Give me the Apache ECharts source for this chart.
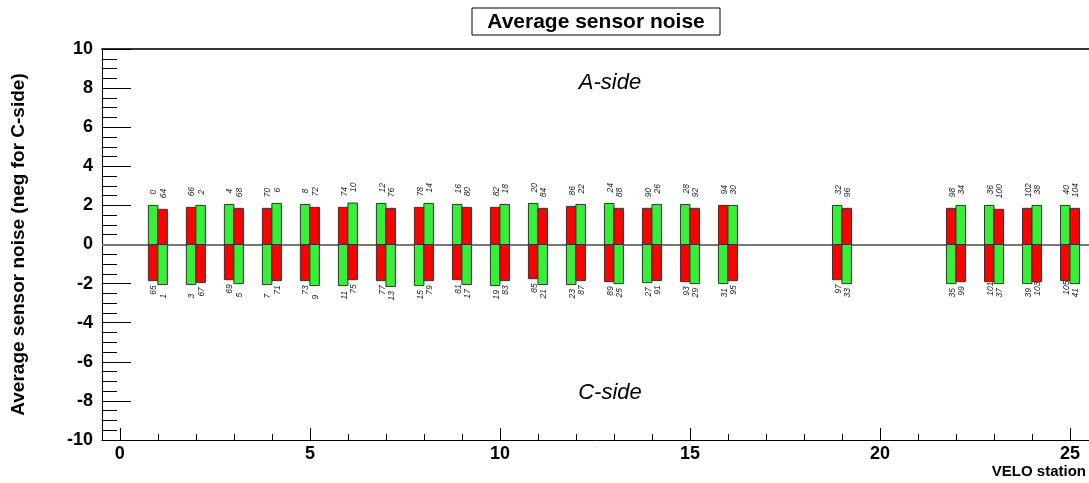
<!DOCTYPE html>
<html>
<head>
<meta charset="utf-8">
<script src="https://cdn.jsdelivr.net/npm/echarts@6/dist/echarts.min.js"></script>
<style>html,body{margin:0;padding:0;background:#fff}#c{width:1089px;height:483px}</style>
</head>
<body>
<div id="c"></div>
<script>
// ---- data ----
var stations = [1,2,3,4,5,6,7,8,9,10,11,12,13,14,15,16,19,22,23,24,25];
// A-side (positive)
var aLeftIds  = [0,66,4,70,8,74,12,78,16,82,20,86,24,90,28,94,32,98,36,102,40];
var aLeftVals = [2.00,1.90,2.05,1.85,2.05,1.90,2.10,1.90,2.05,1.90,2.10,1.95,2.10,1.85,2.05,2.00,2.00,1.85,2.00,1.85,2.00];
var aRightIds  = [64,2,68,6,72,10,76,14,80,18,84,22,88,26,92,30,96,34,100,38,104];
var aRightVals = [1.80,2.00,1.85,2.10,1.90,2.12,1.85,2.10,1.90,2.05,1.85,2.05,1.85,2.05,1.85,2.00,1.85,2.00,1.80,2.00,1.85];
// C-side (negative)
var cLeftIds  = [65,3,69,7,73,11,77,15,81,19,85,23,89,27,93,31,97,35,101,39,105];
var cLeftVals = [-1.85,-2.05,-1.80,-2.05,-1.85,-2.10,-1.85,-2.10,-1.80,-2.10,-1.75,-2.05,-1.90,-1.95,-1.90,-2.00,-1.80,-2.00,-1.90,-2.00,-1.85];
var cRightIds  = [1,67,5,71,9,75,13,79,17,83,21,87,25,91,29,95,33,99,37,103,41];
var cRightVals = [-2.05,-1.95,-2.00,-1.85,-2.10,-1.80,-2.15,-1.85,-2.05,-1.85,-2.05,-1.85,-2.00,-1.85,-2.00,-1.85,-2.00,-1.90,-2.00,-1.90,-2.00];
var xMajorTicks = [0,5,10,15,20,25];
var xMinorTicks = [0,1,2,3,4,5,6,7,8,9,10,11,12,13,14,15,16,17,18,19,20,21,22,23,24,25];

// ---- build ----
var data = [];
for (var i = 0; i < stations.length; i++) {
  data.push([stations[i], aLeftVals[i], -1, aLeftIds[i]]);
  data.push([stations[i], aRightVals[i], 1, aRightIds[i]]);
  data.push([stations[i], cLeftVals[i], -1, cLeftIds[i]]);
  data.push([stations[i], cRightVals[i], 1, cRightIds[i]]);
}
var BAR_W = 0.25;
var RED = '#ff0000', GREEN = '#35f035';
var FONT = '"Liberation Sans", Arial, Helvetica, sans-serif';

function renderItem(params, api) {
  var x = api.value(0), v = api.value(1), side = api.value(2), id = api.value(3);
  var x0 = side < 0 ? x - BAR_W : x;
  var x1 = side < 0 ? x : x + BAR_W;
  var pA = api.coord([x0, v]);
  var pB = api.coord([x1, 0]);
  var rx = Math.min(pA[0], pB[0]), ry = Math.min(pA[1], pB[1]);
  var rw = Math.abs(pB[0] - pA[0]), rh = Math.abs(pB[1] - pA[1]);
  var cx = rx + rw / 2 + 1;
  var ty = v >= 0 ? pA[1] - 11 : pA[1] + 14;
  return {
    type: 'group',
    children: [
      { type: 'rect', shape: { x: rx, y: ry, width: rw, height: rh },
        style: { fill: id >= 64 ? RED : GREEN, stroke: '#333', lineWidth: 1 } },
      { type: 'text', x: cx, y: ty, rotation: Math.PI / 2,
        style: { text: String(id), align: 'left', verticalAlign: 'middle',
                 font: 'italic 8.5px ' + FONT, fill: '#222' } }
    ]
  };
}

var chart = echarts.init(document.getElementById('c'), null, { renderer: 'canvas' });
var axisLbl = { fontFamily: FONT, fontWeight: 'bold', fontSize: 18, color: '#000' };
chart.setOption({
  animation: false,
  backgroundColor: '#fff',
  grid: { left: 102, right: 0, top: 49, bottom: 43, containLabel: false, outerBoundsMode: 'none' },
  xAxis: [
    { type: 'value', min: -0.47, max: 25.5, position: 'bottom',
      axisLine: { show: true, onZero: false, lineStyle: { color: '#000', width: 1 } },
      axisTick: { show: true, inside: true, length: 12, customValues: xMajorTicks, lineStyle: { color: '#000' } },
      axisLabel: Object.assign({ show: true, margin: 5, customValues: xMajorTicks }, axisLbl),
      splitLine: { show: false } },
    { type: 'value', min: -0.47, max: 25.5, position: 'bottom',
      axisLine: { show: false, onZero: false },
      axisTick: { show: true, inside: true, length: 6, customValues: xMinorTicks, lineStyle: { color: '#000' } },
      axisLabel: { show: false },
      splitLine: { show: false } },
    { type: 'value', min: -0.47, max: 25.5, position: 'top',
      axisLine: { show: true, onZero: false, lineStyle: { color: '#333', width: 2 } },
      axisTick: { show: false }, axisLabel: { show: false }, splitLine: { show: false } }
  ],
  yAxis: [{
    type: 'value', min: -10, max: 10, interval: 2,
    name: 'Average sensor noise (neg for C-side)', nameLocation: 'middle', nameGap: 74,
    nameTextStyle: { fontFamily: FONT, fontWeight: 'bold', fontSize: 19, color: '#000' },
    axisLine: { show: true, onZero: false, lineStyle: { color: '#000', width: 1 } },
    axisTick: { show: true, inside: true, length: 29, lineStyle: { color: '#000' } },
    minorTick: { show: true, splitNumber: 4, length: 15, lineStyle: { color: '#000' } },
    axisLabel: Object.assign({ margin: 9 }, axisLbl),
    splitLine: { show: false }
  }],
  series: [{
    type: 'custom',
    xAxisIndex: 0, yAxisIndex: 0,
    renderItem: renderItem,
    encode: { x: 0, y: 1 },
    data: data,
    markLine: {
      silent: true, symbol: 'none', animation: false,
      label: { show: false },
      lineStyle: { color: '#777', width: 2, type: 'solid' },
      data: [{ yAxis: 0 }],
      z: 1
    }
  }],
  graphic: [
    { type: 'rect', shape: { x: 472, y: 8, width: 248, height: 27 },
      style: { fill: '#fff', stroke: '#000', lineWidth: 1 } },
    { type: 'text', x: 596, y: 22,
      style: { text: 'Average sensor noise', align: 'center', verticalAlign: 'middle',
               font: 'bold 21px ' + FONT, fill: '#000' } },
    { type: 'text', x: 610, y: 83,
      style: { text: 'A-side', align: 'center', verticalAlign: 'middle',
               font: 'italic 22px ' + FONT, fill: '#000' } },
    { type: 'text', x: 610, y: 393,
      style: { text: 'C-side', align: 'center', verticalAlign: 'middle',
               font: 'italic 22px ' + FONT, fill: '#000' } },
    { type: 'text', x: 1086, y: 472,
      style: { text: 'VELO station', align: 'right', verticalAlign: 'middle',
               font: 'bold 15px ' + FONT, fill: '#000' } }
  ]
});
</script>
</body>
</html>
